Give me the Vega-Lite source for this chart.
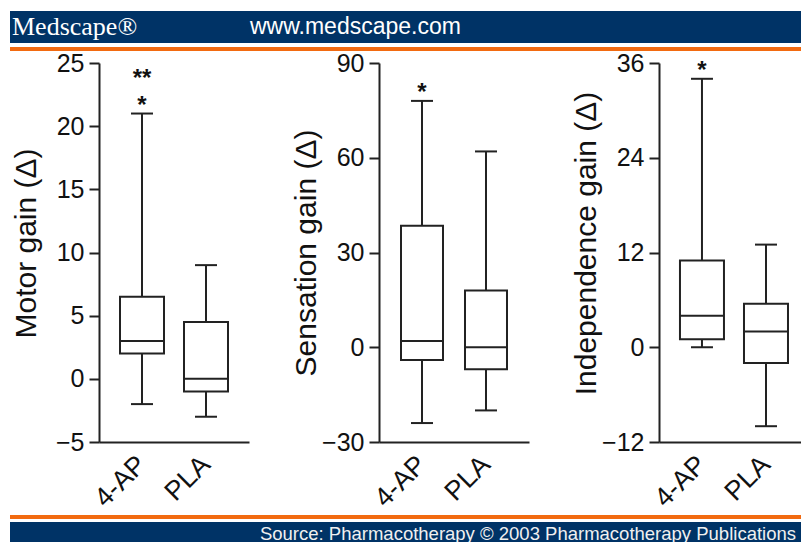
{
  "$schema": "https://vega.github.io/schema/vega-lite/v6.json",
  "padding": {"left": 10, "top": 11, "right": 0, "bottom": 0},
  "background": "white",
  "config": {
    "view": {"stroke": null},
    "font": "Liberation Sans",
    "axis": {"grid": false},
    "tick": {"opacity": 1}
  },
  "datasets": {
    "boxes": [
      {"panel": "Motor", "group": "4-AP", "min": -2, "q1": 2, "median": 3, "q3": 6.5, "max": 21, "star": "*", "star2": "**"},
      {"panel": "Motor", "group": "PLA", "min": -3, "q1": -1, "median": 0, "q3": 4.5, "max": 9, "star": null, "star2": null},
      {"panel": "Sensation", "group": "4-AP", "min": -24, "q1": -4, "median": 2, "q3": 38.5, "max": 78, "star": "*", "star2": null},
      {"panel": "Sensation", "group": "PLA", "min": -20, "q1": -7, "median": 0, "q3": 18, "max": 62, "star": null, "star2": null},
      {"panel": "Independence", "group": "4-AP", "min": 0, "q1": 1, "median": 4, "q3": 11, "max": 34, "star": "*", "star2": null},
      {"panel": "Independence", "group": "PLA", "min": -10, "q1": -2, "median": 2, "q3": 5.5, "max": 13, "star": null, "star2": null}
    ]
  },
  "columns": 1,
  "align": "none",
  "spacing": -3,
  "concat": [
    {
      "columns": 1,
      "align": "none",
      "spacing": 0,
      "concat": [
        {
          "width": 791, "height": 32,
          "view": {"fill": "#003366", "stroke": null},
          "data": {"values": [
            {"item": "logo", "label": "Medscape®"},
            {"item": "url", "label": "www.medscape.com"}
          ]},
          "encoding": {
            "x": {"field": "item", "type": "nominal", "scale": {"domain": ["logo", "url"], "range": [2, 240], "padding": 0}, "axis": null},
            "text": {"field": "label"}
          },
          "layer": [
            {"transform": [{"filter": "datum.item == 'logo'"}], "mark": {"type": "text", "align": "left", "baseline": "middle", "font": "Liberation Serif", "fontSize": 26, "color": "white"}},
            {"transform": [{"filter": "datum.item == 'url'"}], "mark": {"type": "text", "align": "left", "baseline": "middle", "font": "Liberation Sans", "fontSize": 23, "color": "white"}}
          ]
        },
        {
          "width": 791, "height": 4,
          "view": {"fill": "#f26a10", "stroke": null},
          "data": {"values": [{}]},
          "mark": {"type": "text", "text": ""}
        }
      ]
    },
    {
      "columns": 1,
      "align": "none",
      "spacing": -1,
      "concat": [
        {
          "spacing": 0,
          "hconcat": [
            {
              "width": 1, "height": 10,
              "data": {"values": [{}]},
              "mark": {"type": "text", "text": ""}
            },
            {
              "width": 150, "height": 379,
              "data": {"name": "boxes"},
              "transform": [{"filter": "datum.panel == 'Motor'"}],
              "encoding": {
                "x": {"field": "group", "type": "nominal", "sort": ["4-AP", "PLA"], "title": null,
                  "scale": {"paddingInner": 0.3, "paddingOuter": 0.322},
                  "axis": {"labelAngle": -45, "labelAlign": "right", "labelBaseline": "middle", "labelFontSize": 27, "labelColor": "#111", "labelPadding": 18, "ticks": false, "tickSize": 0, "domainColor": "#222", "domainWidth": 2}}
              },
              "layer": [
                {"mark": {"type": "rule", "stroke": "#222", "strokeWidth": 2},
                 "encoding": {"y": {"field": "min", "type": "quantitative", "title": "Motor gain (Δ)",
                   "scale": {"domain": [-5, 25], "nice": false, "zero": false},
                   "axis": {"values": [-5, 0, 5, 10, 15, 20, 25], "domainColor": "#222", "domainWidth": 2, "tickColor": "#222", "tickWidth": 2, "tickSize": 10, "labelFontSize": 25, "labelColor": "#111", "labelPadding": 5, "titleFontSize": 30, "titleFontWeight": "normal", "titleColor": "#111", "titlePadding": 8, "titleY": 180, "minExtent": 50, "maxExtent": 50}},
                   "y2": {"field": "max"}}},
                {"mark": {"type": "bar", "fill": "white", "stroke": "#222", "strokeWidth": 2, "size": 44},
                 "encoding": {"y": {"field": "q1", "type": "quantitative", "title": "Motor gain (Δ)"}, "y2": {"field": "q3"}}},
                {"mark": {"type": "tick", "color": "#222", "thickness": 2, "size": 44},
                 "encoding": {"y": {"field": "median", "type": "quantitative", "title": "Motor gain (Δ)"}}},
                {"mark": {"type": "tick", "color": "#222", "thickness": 2, "size": 22},
                 "encoding": {"y": {"field": "min", "type": "quantitative", "title": "Motor gain (Δ)"}}},
                {"mark": {"type": "tick", "color": "#222", "thickness": 2, "size": 22},
                 "encoding": {"y": {"field": "max", "type": "quantitative", "title": "Motor gain (Δ)"}}},
                {"transform": [{"filter": "datum.star != null"}],
                 "mark": {"type": "text", "fontSize": 24, "fontWeight": "bold", "baseline": "alphabetic", "dy": -1, "color": "#111"},
                 "encoding": {"y": {"field": "max", "type": "quantitative", "title": "Motor gain (Δ)"}, "text": {"field": "star"}}},
                {"transform": [{"filter": "datum.star2 != null"}],
                 "mark": {"type": "text", "fontSize": 24, "fontWeight": "bold", "baseline": "alphabetic", "dy": -28, "color": "#111"},
                 "encoding": {"y": {"field": "max", "type": "quantitative", "title": "Motor gain (Δ)"}, "text": {"field": "star2"}}}
              ]
            },
            {
              "width": 42, "height": 10,
              "data": {"values": [{}]},
              "mark": {"type": "text", "text": ""}
            },
            {
              "width": 150, "height": 379,
              "data": {"name": "boxes"},
              "transform": [{"filter": "datum.panel == 'Sensation'"}],
              "encoding": {
                "x": {"field": "group", "type": "nominal", "sort": ["4-AP", "PLA"], "title": null,
                  "scale": {"paddingInner": 0.3, "paddingOuter": 0.322},
                  "axis": {"labelAngle": -45, "labelAlign": "right", "labelBaseline": "middle", "labelFontSize": 27, "labelColor": "#111", "labelPadding": 18, "ticks": false, "tickSize": 0, "domainColor": "#222", "domainWidth": 2}}
              },
              "layer": [
                {"mark": {"type": "rule", "stroke": "#222", "strokeWidth": 2},
                 "encoding": {"y": {"field": "min", "type": "quantitative", "title": "Sensation gain (Δ)",
                   "scale": {"domain": [-30, 90], "nice": false, "zero": false},
                   "axis": {"values": [-30, 0, 30, 60, 90], "domainColor": "#222", "domainWidth": 2, "tickColor": "#222", "tickWidth": 2, "tickSize": 10, "labelFontSize": 25, "labelColor": "#111", "labelPadding": 5, "titleFontSize": 30, "titleFontWeight": "normal", "titleColor": "#111", "titlePadding": 8, "minExtent": 50, "maxExtent": 50}},
                   "y2": {"field": "max"}}},
                {"mark": {"type": "bar", "fill": "white", "stroke": "#222", "strokeWidth": 2, "size": 42},
                 "encoding": {"y": {"field": "q1", "type": "quantitative", "title": "Sensation gain (Δ)"}, "y2": {"field": "q3"}}},
                {"mark": {"type": "tick", "color": "#222", "thickness": 2, "size": 42},
                 "encoding": {"y": {"field": "median", "type": "quantitative", "title": "Sensation gain (Δ)"}}},
                {"mark": {"type": "tick", "color": "#222", "thickness": 2, "size": 22},
                 "encoding": {"y": {"field": "min", "type": "quantitative", "title": "Sensation gain (Δ)"}}},
                {"mark": {"type": "tick", "color": "#222", "thickness": 2, "size": 22},
                 "encoding": {"y": {"field": "max", "type": "quantitative", "title": "Sensation gain (Δ)"}}},
                {"transform": [{"filter": "datum.star != null"}],
                 "mark": {"type": "text", "fontSize": 24, "fontWeight": "bold", "baseline": "alphabetic", "dy": -1, "color": "#111"},
                 "encoding": {"y": {"field": "max", "type": "quantitative", "title": "Sensation gain (Δ)"}, "text": {"field": "star"}}}
              ]
            },
            {
              "width": 42, "height": 10,
              "data": {"values": [{}]},
              "mark": {"type": "text", "text": ""}
            },
            {
              "width": 142, "height": 379,
              "data": {"name": "boxes"},
              "transform": [{"filter": "datum.panel == 'Independence'"}],
              "encoding": {
                "x": {"field": "group", "type": "nominal", "sort": ["4-AP", "PLA"], "title": null,
                  "scale": {"paddingInner": 0.3, "paddingOuter": 0.259, "align": 0.62},
                  "axis": {"labelAngle": -45, "labelAlign": "right", "labelBaseline": "middle", "labelFontSize": 27, "labelColor": "#111", "labelPadding": 18, "ticks": false, "tickSize": 0, "domainColor": "#222", "domainWidth": 2}}
              },
              "layer": [
                {"mark": {"type": "rule", "stroke": "#222", "strokeWidth": 2},
                 "encoding": {"y": {"field": "min", "type": "quantitative", "title": "Independence gain (Δ)",
                   "scale": {"domain": [-12, 36], "nice": false, "zero": false},
                   "axis": {"values": [-12, 0, 12, 24, 36], "domainColor": "#222", "domainWidth": 2, "tickColor": "#222", "tickWidth": 2, "tickSize": 10, "labelFontSize": 25, "labelColor": "#111", "labelPadding": 5, "titleFontSize": 30, "titleFontWeight": "normal", "titleColor": "#111", "titlePadding": 8, "titleY": 180, "minExtent": 50, "maxExtent": 50}},
                   "y2": {"field": "max"}}},
                {"mark": {"type": "bar", "fill": "white", "stroke": "#222", "strokeWidth": 2, "size": 44},
                 "encoding": {"y": {"field": "q1", "type": "quantitative", "title": "Independence gain (Δ)"}, "y2": {"field": "q3"}}},
                {"mark": {"type": "tick", "color": "#222", "thickness": 2, "size": 44},
                 "encoding": {"y": {"field": "median", "type": "quantitative", "title": "Independence gain (Δ)"}}},
                {"mark": {"type": "tick", "color": "#222", "thickness": 2, "size": 22},
                 "encoding": {"y": {"field": "min", "type": "quantitative", "title": "Independence gain (Δ)"}}},
                {"mark": {"type": "tick", "color": "#222", "thickness": 2, "size": 22},
                 "encoding": {"y": {"field": "max", "type": "quantitative", "title": "Independence gain (Δ)"}}},
                {"transform": [{"filter": "datum.star != null"}],
                 "mark": {"type": "text", "fontSize": 24, "fontWeight": "bold", "baseline": "alphabetic", "dy": -1, "color": "#111"},
                 "encoding": {"y": {"field": "max", "type": "quantitative", "title": "Independence gain (Δ)"}, "text": {"field": "star"}}}
              ]
            }
          ]
        },
        {
          "columns": 1,
          "align": "none",
          "spacing": 0,
          "concat": [
            {
              "width": 791, "height": 4,
              "view": {"fill": "#f26a10", "stroke": null},
              "data": {"values": [{}]},
              "mark": {"type": "text", "text": ""}
            },
            {
              "width": 791, "height": 23,
              "view": {"fill": "#003366", "stroke": null},
              "data": {"values": [{"item": "src", "label": "Source: Pharmacotherapy © 2003 Pharmacotherapy Publications"}]},
              "mark": {"type": "text", "align": "right", "baseline": "middle", "fontSize": 18.5, "color": "#f0f0f0"},
              "encoding": {
                "x": {"field": "item", "type": "nominal", "scale": {"domain": ["src"], "range": [786, 786], "padding": 0}, "axis": null},
                "text": {"field": "label"}
              }
            }
          ]
        }
      ]
    }
  ]
}
